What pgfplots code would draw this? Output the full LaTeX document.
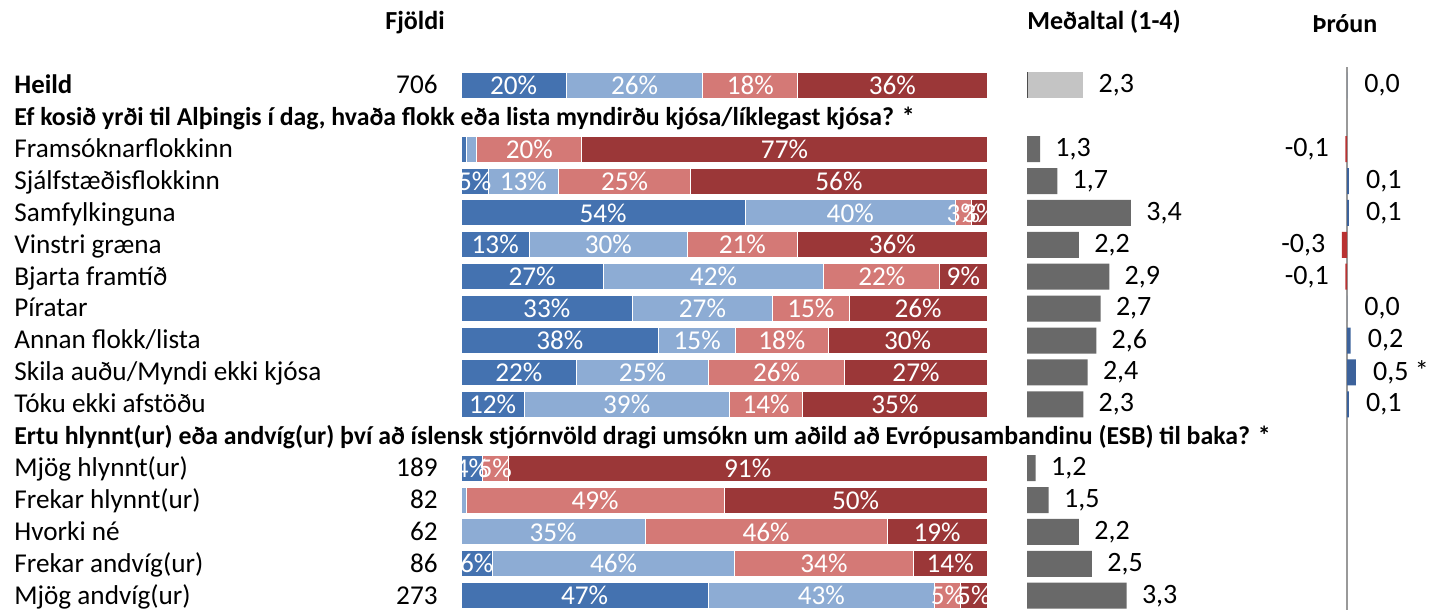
\documentclass[border=0pt]{standalone}
\usepackage{fontspec}
\setmainfont{Carlito}
\usepackage{pgfplots}
\usepackage{pgfplotstable}
\pgfplotsset{compat=1.18}
\definecolor{dblue}{RGB}{68,114,176}
\definecolor{lblue}{RGB}{141,172,212}
\definecolor{pink}{RGB}{212,121,118}
\definecolor{dred}{RGB}{155,55,56}
\definecolor{dgray}{RGB}{105,105,105}
\definecolor{lgray}{RGB}{196,196,196}
\definecolor{tblue}{RGB}{60,98,155}
\definecolor{tred}{RGB}{185,50,50}
\newcommand\lab{\fontsize{13.6}{15}\selectfont}
\newcommand\lbb{\fontsize{12.9}{15}\selectfont\bfseries}
\newcommand\pct{\fontsize{13.6}{16}\selectfont}
\newcommand\val{\fontsize{14}{16}\selectfont}
\newcommand\hdr{\fontsize{13}{15}\selectfont\bfseries}

% r = row (0 = Heild, 1 and 11 are question headers)
\pgfplotstableread{
r  a    b    c    d
0  20   26   18   36
2  1    2    20   77
3  5.2  13.3 25.2 56.3
4  54   40   3    3
5  13   30   21   36
6  27   42   22   9
7  32.6 26.6 14.6 26.2
8  37.6 14.6 17.6 30.2
9  22   25   26   27
10 12   39   14   35
12 4    0    5    91
13 0    1    49   50
14 0    35   46   19
15 6    46   34   14
16 47   43   5    5
}\stacked

\pgfplotstableread{
r  v
2  1.3
3  1.7
4  3.4
5  2.2
6  2.9
7  2.7
8  2.6
9  2.4
10 2.3
12 1.2
13 1.5
14 2.2
15 2.5
16 3.3
}\mean

\pgfplotstableread{
r  v    lab
0  0.0  {0,0}
3  0.1  {0,1}
4  0.1  {0,1}
7  0.0  {0,0}
8  0.2  {0,2}
9  0.5  {0,5 *}
10 0.1  {0,1}
}\trendpos

\pgfplotstableread{
r  v    lab
2  -0.1 {-0,1}
5  -0.3 {-0,3}
6  -0.1 {-0,1}
}\trendneg

\begin{document}
\begin{tikzpicture}
\useasboundingbox (0,0) rectangle (714.5pt,-305pt);
\pgfplotsset{rows/.style={scale only axis, height=271.15pt, ymin=-0.5, ymax=16.5,
  y dir=reverse, hide axis, anchor=south west, bar width=13pt}}

% stacked percentages
\begin{axis}[rows, at={(230.5pt,-305.83pt)}, width=264.315pt, xmin=0, xmax=100.5,
  xbar stacked,
  visualization depends on=rawx \as \rawx,
  nodes near coords={\pgfmathparse{\rawx>=2.5}\ifdim\pgfmathresult pt>0.5pt \pgfmathprintnumber[fixed,precision=0,assume math mode=true]{\rawx}\%\fi},
  nodes near coords style={white, font=\pct, anchor=center, inner sep=0pt}]
\addplot[fill=dblue, draw=white, line width=0.5pt] table[x=a,y=r]{\stacked};
\addplot[fill=lblue, draw=white, line width=0.5pt] table[x=b,y=r]{\stacked};
\addplot[fill=pink, draw=white, line width=0.5pt] table[x=c,y=r]{\stacked};
\addplot[fill=dred, draw=white, line width=0.5pt] table[x=d,y=r]{\stacked};
\end{axis}

% mean (1-4)
\begin{axis}[rows, at={(513.5pt,-305.83pt)}, width=86.6pt, xmin=1, xmax=5,
  xbar, point meta=x,
  nodes near coords={\pgfmathprintnumber[use comma,fixed,fixed zerofill,precision=1,assume math mode=true]{\pgfplotspointmeta}},
  nodes near coords style={black, font=\val, anchor=west, inner sep=0pt, xshift=7.5pt}]
\addplot[fill=lgray, draw=none, bar shift=0pt] coordinates {(2.3,0)};
\addplot[fill=dgray, draw=none, bar shift=0pt] table[x=v,y=r]{\mean};
\draw[black!70, line width=0.8pt] (axis cs:1,-0.41) -- (axis cs:1,0.41);
\end{axis}

% trend
\begin{axis}[rows, at={(642.875pt,-305.83pt)}, width=61.25pt, xmin=-3.5, xmax=3.5,
  clip=false, xbar, point meta=explicit symbolic, nodes near coords]
\draw[black!40, line width=1pt] (axis cs:0,-0.57) -- (axis cs:0,16.6);
\addplot[fill=tblue, draw=none, bar shift=0pt,
  nodes near coords style={black, font=\val, anchor=west, inner sep=0pt, xshift=8.5pt}]
  table[x=v,y=r,meta=lab]{\trendpos};
\addplot[fill=tred, draw=none, bar shift=0pt,
  nodes near coords style={black, font=\val, anchor=east, inner sep=0pt, xshift=-8pt}]
  table[x=v,y=r,meta=lab]{\trendneg};
\end{axis}

\begin{scope}[x=0.5pt, y=-0.5pt]
\node[anchor=base, inner sep=0pt, font=\hdr] at (415,30) {Fjöldi};
\node[anchor=base, inner sep=0pt, font=\hdr] at (1104,30) {Meðaltal (1-4)};
\node[anchor=base, inner sep=0pt, font=\hdr] at (1345,33) {Þróun};

\tikzset{rl/.style={anchor=base west, inner sep=0pt, font=\lab},
  rb/.style={anchor=base west, inner sep=0pt, font=\lbb},
  cnt/.style={anchor=base east, inner sep=0pt, font=\lab}}
\node[rb, font=\fontsize{13.4}{15}\selectfont\bfseries] at (14,93.6) {Heild};
\node[rb] at (14,125.5) {Ef kosið yrði til Alþingis í dag, hvaða flokk eða lista myndirðu kjósa/líklegast kjósa? *};
\node[rl] at (14,157.4) {Framsóknarflokkinn};
\node[rl] at (14,189.3) {Sjálfstæðisflokkinn};
\node[rl] at (14,221.2) {Samfylkinguna};
\node[rl] at (14,253.1) {Vinstri græna};
\node[rl] at (14,285.0) {Bjarta framtíð};
\node[rl] at (14,316.9) {Píratar};
\node[rl] at (14,348.8) {Annan flokk/lista};
\node[rl] at (14,380.7) {Skila auðu/Myndi ekki kjósa};
\node[rl] at (14,412.6) {Tóku ekki afstöðu};
\node[rb] at (14,444.5) {Ertu hlynnt(ur) eða andvíg(ur) því að íslensk stjórnvöld dragi umsókn um aðild að Evrópusambandinu (ESB) til baka? *};
\node[rl] at (14,476.4) {Mjög hlynnt(ur)};
\node[rl] at (14,508.3) {Frekar hlynnt(ur)};
\node[rl] at (14,540.2) {Hvorki né};
\node[rl] at (14,572.1) {Frekar andvíg(ur)};
\node[rl] at (14,604.0) {Mjög andvíg(ur)};

\node[cnt] at (438,93.6) {706};
\node[cnt] at (438,476.4) {189};
\node[cnt] at (438,508.3) {82};
\node[cnt] at (438,540.2) {62};
\node[cnt] at (438,572.1) {86};
\node[cnt] at (438,604.0) {273};
\end{scope}
\end{tikzpicture}
\end{document}
